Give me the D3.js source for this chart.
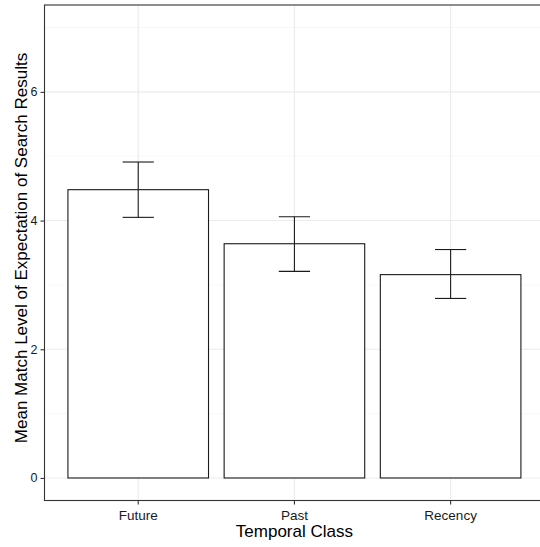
<!DOCTYPE html>
<html><head><meta charset="utf-8">
<script src="https://cdn.jsdelivr.net/npm/d3@7"></script>
<style>body{margin:0;background:#fff}svg{display:block}text{font-family:"Liberation Sans",Arial,sans-serif}</style>
</head><body>
<svg id="c" width="540" height="547"></svg>
<script>
const categories = ["Future", "Past", "Recency"];
const means = [4.48, 3.64, 3.16];
const errLow = [4.05, 3.21, 2.79];
const errHigh = [4.91, 4.06, 3.55];
const yMajorTicks = [0, 2, 4, 6];
const yMinorTicks = [1, 3, 5, 7];

const svg = d3.select("#c");
const L = 44.5, T = 5, B = 500.5;
const step = 156.2;
const R = L + 3.2 * step;
const y = d3.scaleLinear().domain([-0.35, 7.35]).range([B, T]);
const x = d3.scaleBand().domain(categories).range([L + 0.1 * step, R - 0.1 * step]).paddingInner(0).paddingOuter(0);
const cx = c => x(c) + x.bandwidth() / 2;

const g = svg.append("g");
// minor grid
g.selectAll(".ymin").data(yMinorTicks).enter().append("line")
  .attr("x1", L).attr("x2", R).attr("y1", d => y(d)).attr("y2", d => y(d))
  .attr("stroke", "#f2f2f2").attr("stroke-width", 0.6);
// major grid
g.selectAll(".ymaj").data(yMajorTicks).enter().append("line")
  .attr("x1", L).attr("x2", R).attr("y1", d => y(d)).attr("y2", d => y(d))
  .attr("stroke", "#ebebeb").attr("stroke-width", 1.1);
g.selectAll(".xmaj").data(categories).enter().append("line")
  .attr("x1", d => cx(d)).attr("x2", d => cx(d)).attr("y1", T).attr("y2", B)
  .attr("stroke", "#ebebeb").attr("stroke-width", 1.1);

// bars
const bw = 0.9 * step;
g.selectAll(".bar").data(categories).enter().append("rect")
  .attr("x", d => cx(d) - bw / 2).attr("width", bw)
  .attr("y", (d, i) => y(means[i])).attr("height", (d, i) => y(0) - y(means[i]))
  .attr("fill", "#fff").attr("stroke", "#1a1a1a").attr("stroke-width", 1.1);

// error bars
const ew = 0.2 * step;
categories.forEach((c, i) => {
  const e = g.append("g").attr("stroke", "#1a1a1a").attr("stroke-width", 1.1);
  e.append("line").attr("x1", cx(c)).attr("x2", cx(c)).attr("y1", y(errLow[i])).attr("y2", y(errHigh[i]));
  e.append("line").attr("x1", cx(c) - ew / 2).attr("x2", cx(c) + ew / 2).attr("y1", y(errLow[i])).attr("y2", y(errLow[i]));
  e.append("line").attr("x1", cx(c) - ew / 2).attr("x2", cx(c) + ew / 2).attr("y1", y(errHigh[i])).attr("y2", y(errHigh[i]));
});

// panel border
svg.append("rect").attr("x", L).attr("y", T).attr("width", R - L).attr("height", B - T)
  .attr("fill", "none").attr("stroke", "#333").attr("stroke-width", 1.1);

// axes
const yAxis = svg.append("g").attr("transform", `translate(${L},0)`)
  .call(d3.axisLeft(y).tickValues(yMajorTicks).tickSize(4).tickPadding(3));
const xAxis = svg.append("g").attr("transform", `translate(0,${B})`)
  .call(d3.axisBottom(x).tickSize(4).tickPadding(4));
[yAxis, xAxis].forEach(a => {
  a.select(".domain").remove();
  a.selectAll(".tick line").attr("stroke", "#333").attr("stroke-width", 1.1);
  a.selectAll(".tick text").attr("fill", "#1a1a1a")
    .style("font-family", '"Liberation Sans",Arial,sans-serif');
});
yAxis.selectAll(".tick text").style("font-size", "12.5px");
xAxis.selectAll(".tick text").style("font-size", "13.5px").attr("dy", null).attr("y", 19.5);

svg.append("text").attr("x", cx("Past")).attr("y", 537).attr("text-anchor", "middle")
  .style("font-size", "17px").attr("fill", "#000").text("Temporal Class");
svg.append("text").attr("transform", `translate(26.5,248) rotate(-90)`)
  .attr("text-anchor", "middle").style("font-size", "17px").attr("fill", "#000")
  .text("Mean Match Level of Expectation of Search Results");
</script>
</body></html>
